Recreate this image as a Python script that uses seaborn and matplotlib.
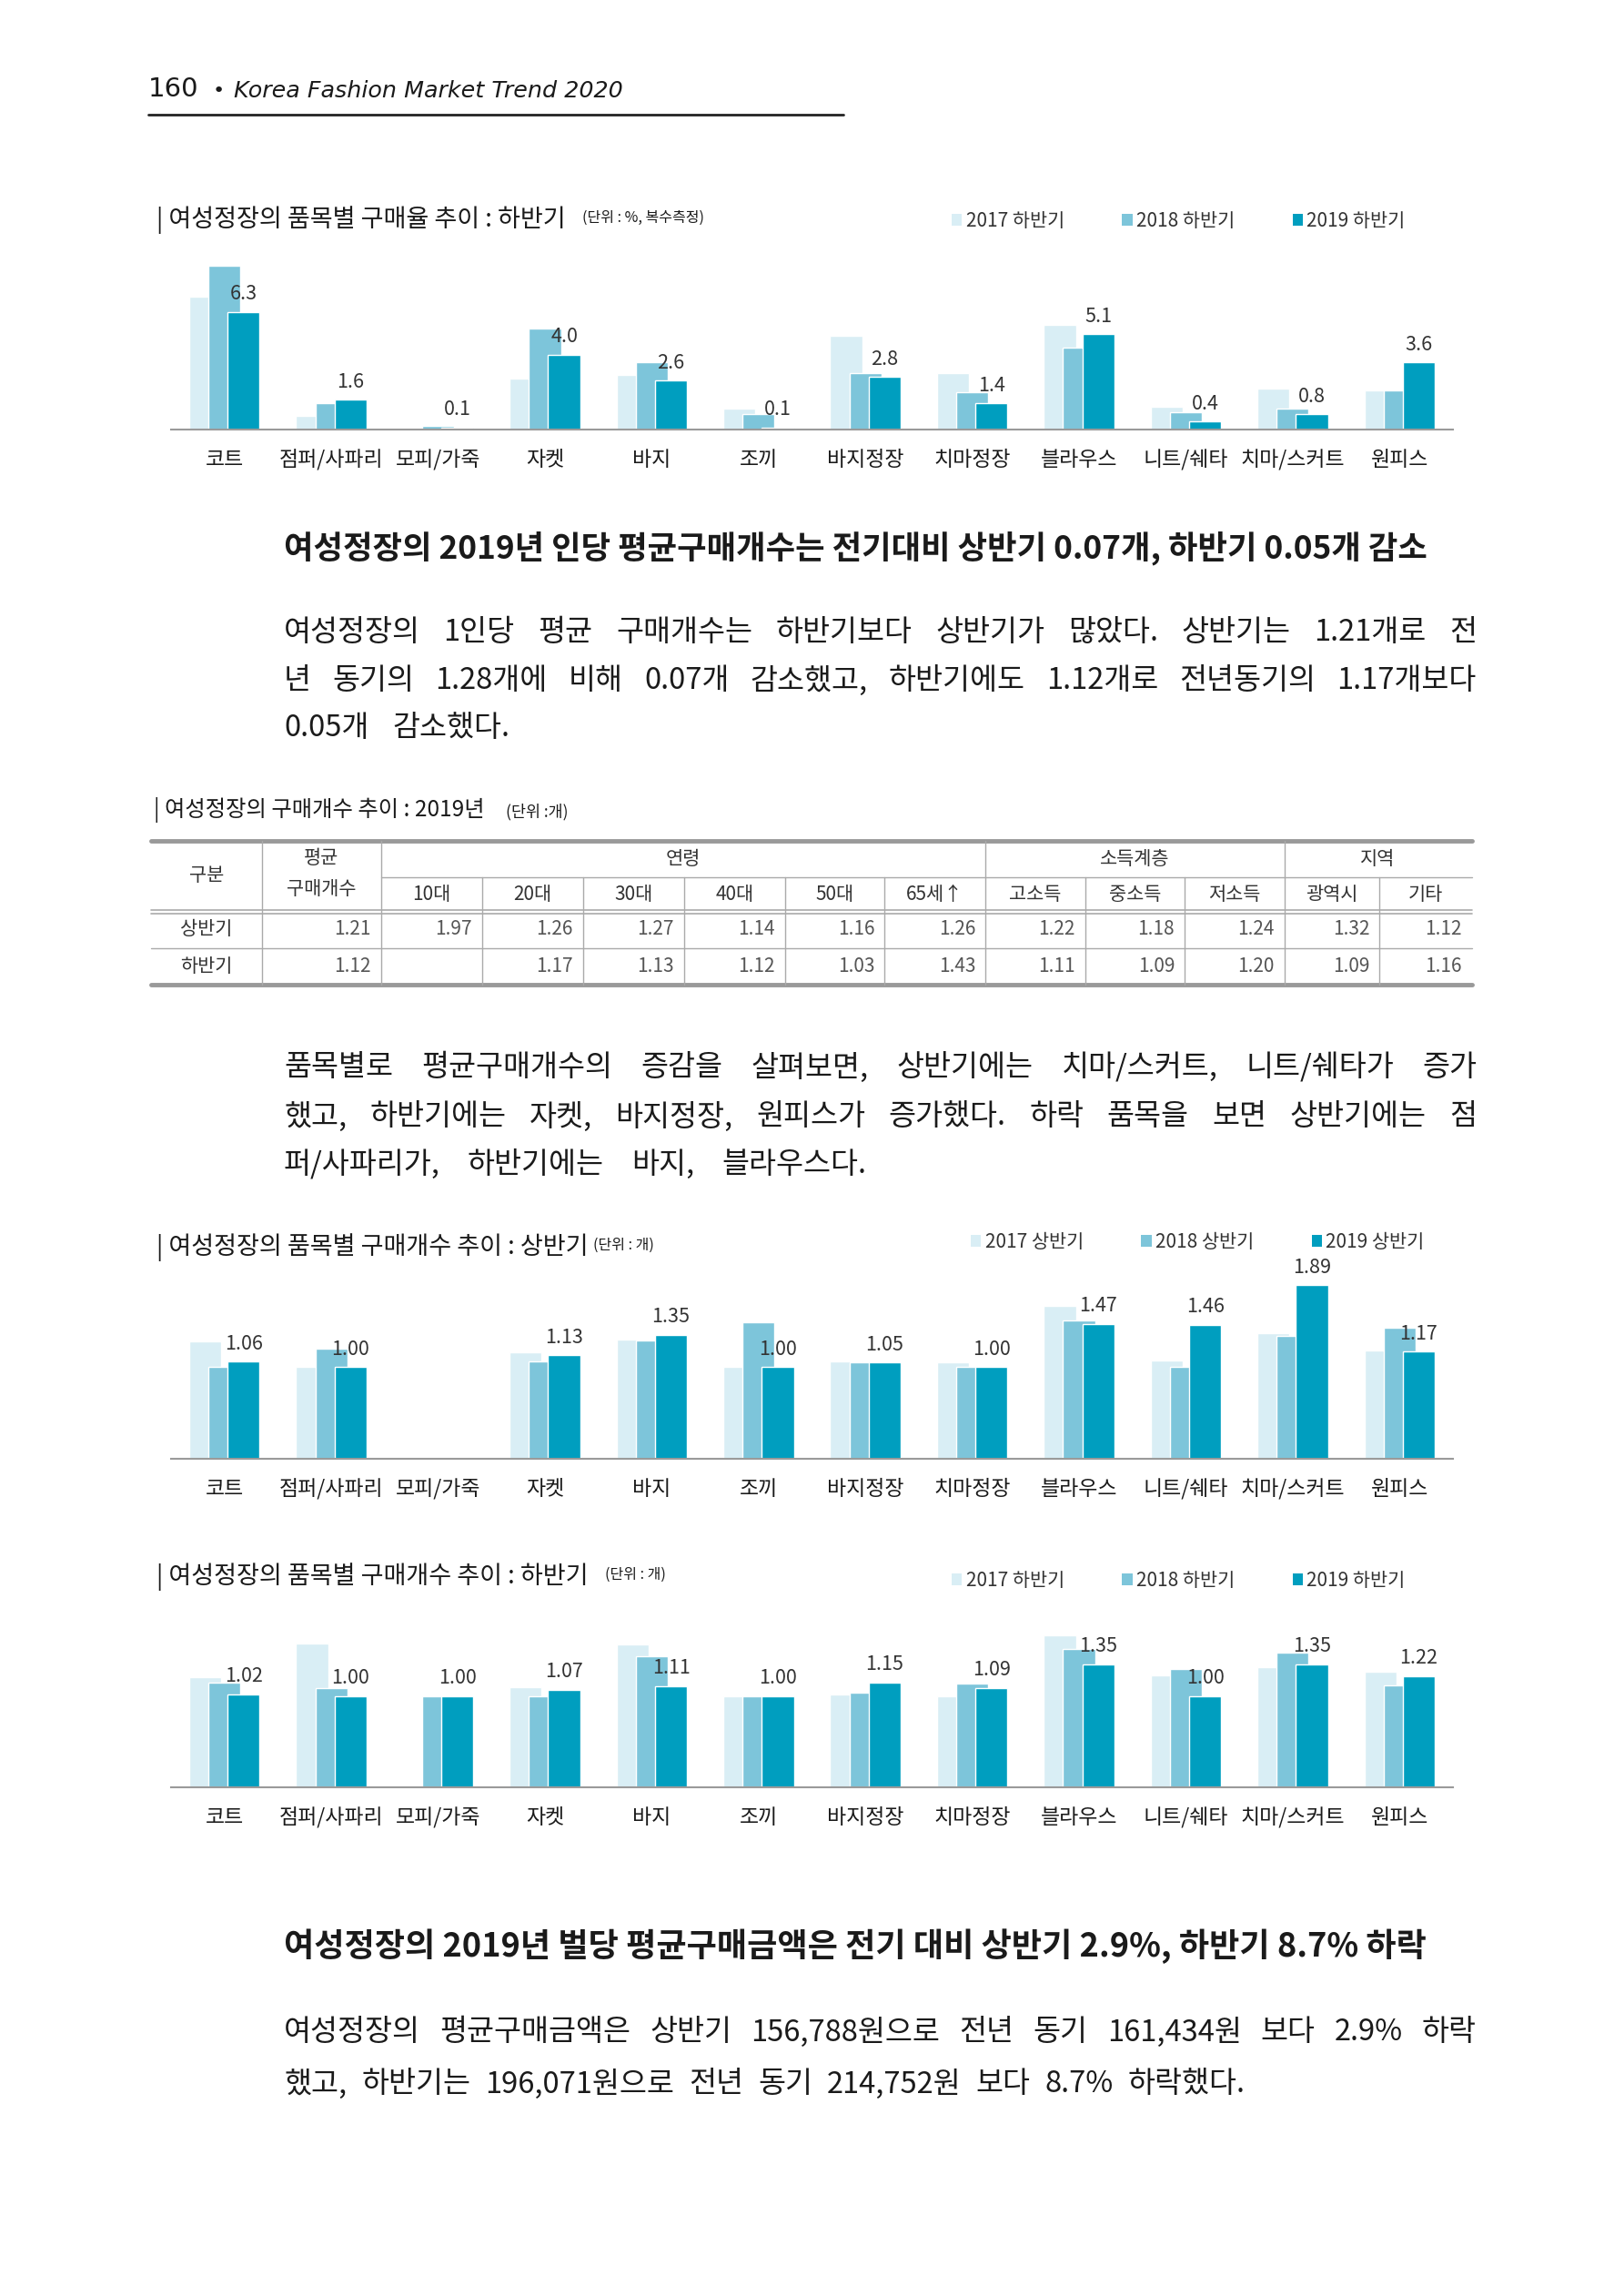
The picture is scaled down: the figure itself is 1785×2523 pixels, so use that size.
import numpy as np
import matplotlib
matplotlib.use("Agg")
import matplotlib.pyplot as plt
from matplotlib.patches import Patch
import seaborn as sns

# ---- data ----
items = ['코트', '점퍼/사파리', '모피/가죽', '자켓', '바지', '조끼',
         '바지정장', '치마정장', '블라우스', '니트/쉐타', '치마/스커트', '원피스']

# purchase rate (%), 2nd half
rate_h2_2017 = [7.1, 0.7, 0.0, 2.7, 2.9, 1.1, 5.0, 3.0, 5.6, 1.2, 2.2, 2.1]
rate_h2_2018 = [8.8, 1.4, 0.2, 5.4, 3.6, 0.8, 3.0, 2.0, 4.4, 0.9, 1.1, 2.1]
rate_h2_2019 = [6.3, 1.6, 0.1, 4.0, 2.6, 0.1, 2.8, 1.4, 5.1, 0.4, 0.8, 3.6]

# purchase count, 1st half
cnt_h1_2017 = [1.28, 1.00, 0, 1.16, 1.30, 1.00, 1.06, 1.05, 1.66, 1.07, 1.37, 1.18]
cnt_h1_2018 = [1.00, 1.20, 0, 1.06, 1.29, 1.49, 1.05, 1.00, 1.51, 1.00, 1.34, 1.43]
cnt_h1_2019 = [1.06, 1.00, 0, 1.13, 1.35, 1.00, 1.05, 1.00, 1.47, 1.46, 1.89, 1.17]

# purchase count, 2nd half
cnt_h2_2017 = [1.21, 1.58, 0, 1.10, 1.57, 1.00, 1.02, 1.00, 1.67, 1.23, 1.32, 1.27]
cnt_h2_2018 = [1.15, 1.09, 1.00, 1.00, 1.44, 1.00, 1.04, 1.14, 1.52, 1.30, 1.48, 1.12]
cnt_h2_2019 = [1.02, 1.00, 1.00, 1.07, 1.11, 1.00, 1.15, 1.09, 1.35, 1.00, 1.35, 1.22]

# table
tbl_groups = ['연령', '소득계층', '지역']
tbl_sub = ['10대', '20대', '30대', '40대', '50대', '65세↑', '고소득', '중소득', '저소득', '광역시', '기타']
tbl_rows = ['상반기', '하반기']
tbl_avg = ['1.21', '1.12']
tbl_h1 = ['1.97', '1.26', '1.27', '1.14', '1.16', '1.26', '1.22', '1.18', '1.24', '1.32', '1.12']
tbl_h2 = ['', '1.17', '1.13', '1.12', '1.03', '1.43', '1.11', '1.09', '1.20', '1.09', '1.16']

colors = ['#d9eef5', '#7dc5da', '#009ebf']

# ---- figure ----
sns.set_theme(style='white')
plt.rcParams['font.family'] = ['Noto Sans CJK KR', 'DejaVu Sans']
W, H = 1785, 2523
fig = plt.figure(figsize=(W / 100, H / 100), dpi=100)
fig.patch.set_facecolor('white')

page = fig.add_axes([0, 0, 1, 1])
page.set_xlim(0, W)
page.set_ylim(H, 0)
page.axis('off')
renderer = fig.canvas.get_renderer()

TXT = '#1a1a1a'


def put_line(text, x0, x1, y, size, justify=True, gap=26, **kw):
    words = text.split(' ')
    objs = [page.text(0, y, w, fontsize=size, va='center', ha='left', color=TXT, **kw) for w in words]
    widths = [o.get_window_extent(renderer).width for o in objs]
    if justify:
        gap = (x1 - x0 - sum(widths)) / (len(words) - 1)
    x = x0
    for o, w in zip(objs, widths):
        o.set_x(x)
        x += w + gap


# page header
page.text(163, 98, '160', fontsize=21, va='center', ha='left', color=TXT, family='DejaVu Sans')
page.text(234, 100, '•', fontsize=16, va='center', ha='left', color=TXT, family='DejaVu Sans')
page.text(257, 100, 'Korea Fashion Market Trend 2020', fontsize=18.3, style='italic',
          va='center', ha='left', color=TXT, family='DejaVu Sans')
page.plot([163, 927], [126, 126], color='#222222', lw=2)


def chart(rect, s17, s18, s19, ymax, fmt, title, unit, unit_x, title_y, legend_labels, legend_x, legend_y):
    ax = fig.add_axes(rect)
    ax.set_facecolor('none')
    pos = np.arange(len(items))
    for offs, vals, c in zip([-0.18, 0, 0.18], [s17, s18, s19], colors):
        sns.barplot(x=pos + offs, y=vals, native_scale=True, width=0.30, color=c,
                    saturation=1, errorbar=None, ax=ax)
    labels = [fmt.format(v) if v > 0 else '' for v in s19]
    ax.bar_label(ax.containers[2], labels=labels, padding=6, fontsize=15.5, color='#333333')
    ax.set_xlim(-0.5, 11.5)
    ax.set_ylim(0, ymax)
    ax.set_xticks(pos)
    ax.set_xticklabels(items, fontsize=16.5, color=TXT)
    ax.tick_params(axis='x', length=0, pad=16)
    ax.set_yticks([])
    ax.set_xlabel('')
    ax.set_ylabel('')
    for s in ['top', 'left', 'right']:
        ax.spines[s].set_visible(False)
    ax.spines['bottom'].set_color('#9a9a9a')
    ax.spines['bottom'].set_linewidth(1.5)
    page.text(172, title_y, title, fontsize=19.5, va='center', ha='left', color=TXT)
    page.text(unit_x, title_y - 3, unit, fontsize=11.5, va='center', ha='left', color=TXT)
    handles = [Patch(facecolor=c, edgecolor='none', label=l) for c, l in zip(colors, legend_labels)]
    ax.legend(handles=handles, ncol=3, loc='center left', frameon=False,
              bbox_to_anchor=(legend_x / W, 1 - legend_y / H), bbox_transform=fig.transFigure,
              fontsize=15, handlelength=0.55, handleheight=0.55, handletextpad=0.2,
              columnspacing=3.05, borderpad=0, borderaxespad=0, labelcolor='#333333')
    return ax


chart([188 / W, 1 - 471.6 / H, 1409 / W, 194.3 / H], rate_h2_2017, rate_h2_2018, rate_h2_2019,
      9.5, '{:.1f}', '| 여성정장의 품목별 구매율 추이 : 하반기', '(단위 : %, 복수측정)', 640, 242,
      ['2017 하반기', '2018 하반기', '2019 하반기'], 1046, 243)

chart([188 / W, 1 - 1603 / H, 1409 / W, 207 / H], cnt_h1_2017, cnt_h1_2018, cnt_h1_2019,
      2.05, '{:.2f}', '| 여성정장의 품목별 구매개수 추이 : 상반기', '(단위 : 개)', 652, 1371,
      ['2017 상반기', '2018 상반기', '2019 상반기'], 1067, 1365)

chart([188 / W, 1 - 1963.7 / H, 1409 / W, 180 / H], cnt_h2_2017, cnt_h2_2018, cnt_h2_2019,
      1.8, '{:.2f}', '| 여성정장의 품목별 구매개수 추이 : 하반기', '(단위 : 개)', 665, 1733,
      ['2017 하반기', '2018 하반기', '2019 하반기'], 1046, 1737)

# headings and paragraphs
L, R = 312, 1623
BODY = 23.5
page.text(L, 602, '여성정장의 2019년 인당 평균구매개수는 전기대비 상반기 0.07개, 하반기 0.05개 감소',
          fontsize=25.4, fontweight='bold', va='center', ha='left', color=TXT)
put_line('여성정장의 1인당 평균 구매개수는 하반기보다 상반기가 많았다. 상반기는 1.21개로 전', L, R, 695, BODY)
put_line('년 동기의 1.28개에 비해 0.07개 감소했고, 하반기에도 1.12개로 전년동기의 1.17개보다', L, R, 748, BODY)
put_line('0.05개 감소했다.', L, R, 800, BODY, justify=False)

put_line('품목별로 평균구매개수의 증감을 살펴보면, 상반기에는 치마/스커트, 니트/쉐타가 증가', L, R, 1173, BODY)
put_line('했고, 하반기에는 자켓, 바지정장, 원피스가 증가했다. 하락 품목을 보면 상반기에는 점', L, R, 1227, BODY)
put_line('퍼/사파리가, 하반기에는 바지, 블라우스다.', L, R, 1280, BODY, justify=False, gap=30)

page.text(L, 2139, '여성정장의 2019년 벌당 평균구매금액은 전기 대비 상반기 2.9%, 하반기 8.7% 하락',
          fontsize=26, fontweight='bold', va='center', ha='left', color=TXT)
put_line('여성정장의 평균구매금액은 상반기 156,788원으로 전년 동기 161,434원 보다 2.9% 하락', L, R, 2233, BODY)
put_line('했고, 하반기는 196,071원으로 전년 동기 214,752원 보다 8.7% 하락했다.', L, R, 2290, BODY,
         justify=False, gap=16)

# table
page.text(169, 890, '| 여성정장의 구매개수 추이 : 2019년', fontsize=17.5, va='center', ha='left', color=TXT)
page.text(556, 892, '(단위 :개)', fontsize=12.5, va='center', ha='left', color=TXT)

cols = [165.8, 288.1, 418.5, 529.6, 640.6, 751.7, 862.7, 972.2, 1083.3, 1192.7, 1302.2, 1411.6, 1516.2, 1617.6]
y_top, y_mid, y_hb, y_r1, y_bot = 924, 964, 1000, 1042, 1082
LC = '#aaaaaa'
page.plot([cols[0], cols[-1]], [y_top, y_top], color='#999999', lw=3.5)
page.plot([cols[0], cols[-1]], [y_bot, y_bot], color='#999999', lw=3.5)
page.plot([cols[2], cols[-1]], [y_mid, y_mid], color=LC, lw=1)
page.plot([cols[0], cols[-1]], [y_hb, y_hb], color=LC, lw=1.2)
page.plot([cols[0], cols[-1]], [y_hb + 4, y_hb + 4], color=LC, lw=1.2)
page.plot([cols[0], cols[-1]], [y_r1, y_r1], color=LC, lw=1)
for i, x in enumerate(cols[1:-1], start=1):
    full = i in (1, 2, 8, 11)
    page.plot([x, x], [y_top if full else y_mid, y_bot], color=LC, lw=1)

HC = '#333333'
TS = 15
page.text((cols[0] + cols[1]) / 2, 962, '구분', fontsize=TS, ha='center', va='center', color=HC)
page.text((cols[1] + cols[2]) / 2, 943, '평균', fontsize=TS, ha='center', va='center', color=HC)
page.text((cols[1] + cols[2]) / 2, 977, '구매개수', fontsize=TS, ha='center', va='center', color=HC)
for g, (a, b) in zip(tbl_groups, [(2, 8), (8, 11), (11, 13)]):
    page.text((cols[a] + cols[b]) / 2, 944, g, fontsize=TS, ha='center', va='center', color=HC)
for j, s in enumerate(tbl_sub):
    page.text((cols[j + 2] + cols[j + 3]) / 2, 983, s, fontsize=TS, ha='center', va='center', color=HC)

for r, (name, avg, vals) in enumerate(zip(tbl_rows, tbl_avg, [tbl_h1, tbl_h2])):
    yc = 1021 if r == 0 else 1062
    page.text((cols[0] + cols[1]) / 2, yc, name, fontsize=TS, ha='center', va='center', color=HC)
    page.text(cols[2] - 11, yc, avg, fontsize=TS, ha='right', va='center', color='#555555')
    for j, v in enumerate(vals):
        page.text(cols[j + 3] - 11, yc, v, fontsize=TS, ha='right', va='center', color='#555555')

fig.savefig('out.png', dpi=100, facecolor='white')
